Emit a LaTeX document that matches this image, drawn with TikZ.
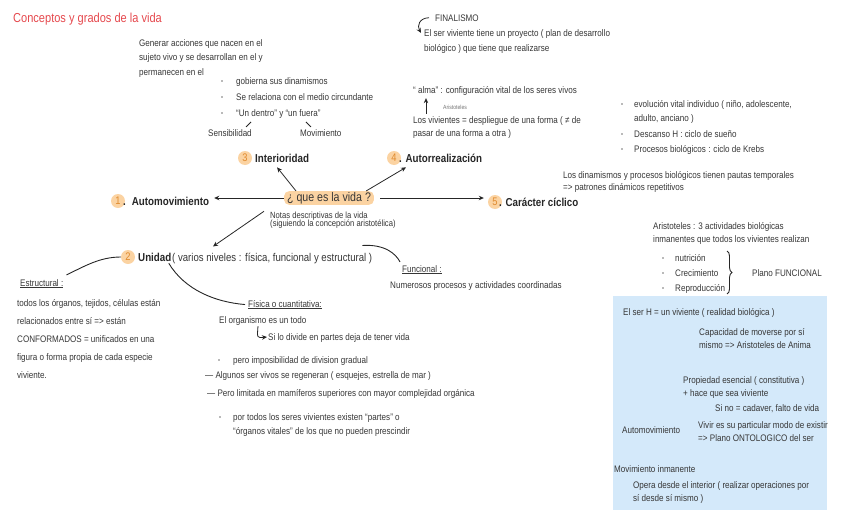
\documentclass[tikz,border=0pt]{standalone}
\usepackage{fontspec}
\setmainfont[FakeStretch=0.85]{Liberation Sans}
\usetikzlibrary{arrows.meta,decorations.pathreplacing}
\definecolor{ink}{HTML}{363636}
\definecolor{titlered}{HTML}{E5484D}
\definecolor{hl}{HTML}{FBD3A2}
\definecolor{numtext}{HTML}{E08A2E}
\definecolor{boxblue}{HTML}{D4E9FA}
\tikzset{
  txt/.style={anchor=base west,inner sep=0pt,align=left,text=ink,font=\fontsize{9.5}{#1}\selectfont},
  txt/.default=14,
  head/.style={anchor=base west,inner sep=0pt,text=black!85,font=\fontsize{11.5}{13}\selectfont\bfseries},
  num/.style={circle,fill=hl,inner sep=0pt,minimum size=14pt,text=numtext,font=\fontsize{11}{13}\selectfont},
  dot/.style={circle,fill=black!55,inner sep=0pt,minimum size=1.8pt},
  arr/.style={-{Stealth[length=5pt,width=4.5pt]},line width=0.8pt,black!85},
  link/.style={line width=0.9pt,black!85},
  brace/.style={decorate,decoration={brace,amplitude=5pt},line width=0.9pt,black!85}
}
\begin{document}
\begin{tikzpicture}[x=1pt,y=-1pt]
\useasboundingbox (0,0) rectangle (848,530);
\fill[boxblue] (613,296) rectangle (827,510);

\node[anchor=base west,inner sep=0pt,text=titlered,font=\fontsize{13}{15}\selectfont] (title) at (13,23) {Conceptos y grados de la vida};

\node[txt=14.5] (gen) at (139,75) {Generar acciones que nacen en el\\sujeto vivo y se desarrollan en el y\\permanecen en el};
\foreach \t [count=\i] in {gobierna sus dinamismos, Se relaciona con el medio circundante, “Un dentro” y “un fuera”}{
\node[dot] at (222,65+16*\i) {};
\node[txt] (in\i) at (236,68+16*\i) {\t};
}
\node[txt] (sens) at (208,136) {Sensibilidad};
\node[txt] (movim) at (300,136) {Movimiento};
\draw[link] ([xshift=38pt,yshift=2pt]sens.north west) -- ++(5,-5);
\draw[link] ([xshift=11pt,yshift=2pt]movim.north west) -- ++(-5,-5);

\node[txt] (final) at (435,21) {FINALISMO};
\node[txt=15] (proy) at (424,51) {El ser viviente tiene un proyecto ( plan de desarrollo\\biológico ) que tiene que realizarse};
\draw[arr] ([xshift=-6pt]final.west) .. controls (419,18) and (417,26) .. ([xshift=-3pt,yshift=-4pt]proy.north west);

\node[txt] (alma) at (413,93) {“ alma” : configuración vital de los seres vivos};
\node[anchor=base west,inner sep=0pt,text=black!55,font=\fontsize{6}{7}\selectfont] (arist) at (443,109) {Aristoteles};
\node[txt=13] (viv) at (413,136) {Los vivientes = despliegue de una forma ( ≠ de\\pasar de una forma a otra )};
\draw[arr] ([xshift=13pt,yshift=2pt]viv.north west) -- ([xshift=13pt,yshift=-3pt]alma.south west);

\node[dot] at (622,104) {};
\node[txt=14.5] (evol) at (634,121.5) {evolución vital individuo ( niño, adolescente,\\adulto, anciano )};
\foreach \y/\t in {134/{Descanso H : ciclo de sueño},149/{Procesos biológicos : ciclo de Krebs}}{
\node[dot] at (622,\y) {};
\node[txt] at (634,\y+3) {\t};
}
\node[txt=12] (ritmo) at (563,190) {Los dinamismos y procesos biológicos tienen pautas temporales\\=> patrones dinámicos repetitivos};

\node[fill=hl,rounded corners=5pt,inner xsep=3pt,inner ysep=1pt,text=ink,font=\fontsize{12.5}{14}\selectfont] (vida) at (329,198) {¿ que es la vida ?};
\node[txt=8.5,font=\fontsize{9}{8.5}\selectfont] (notas) at (270,226.5) {Notas descriptivas de la vida\\(siguiendo la concepción aristotélica)};

\node[num] (n1) at (118,201) {1};
\node[head] (automov) at (123,205) {.\hspace{6pt}Automovimiento};
\node[num] (n3) at (245,158) {3};
\node[head] (inter) at (255,162) {Interioridad};
\node[num] (n4) at (394,158) {4};
\node[head] (auto4) at (399,162) {. Autorrealización};
\node[num] (n5) at (495,202) {5};
\node[head] (cicl) at (499,206) {. Carácter cíclico};
\node[num] (n2) at (128,257) {2};
\node[head] (unid) at (138,261) {Unidad};
\node[txt,font=\fontsize{11.3}{13}\selectfont] (rest) at (172,261) {( varios niveles : física, funcional y estructural )};

\draw[arr,shorten >=5pt] (vida.west) -- (vida.west -| automov.east);
\draw[arr,shorten <=6pt,shorten >=4pt] (vida.east) -- (vida.east -| n5.west);
\draw[arr] ([xshift=-33pt]vida.north) -- ([xshift=-5pt,yshift=-5pt]inter.south);
\draw[arr] ([xshift=-8pt]vida.north east) -- ([xshift=7pt,yshift=-5pt]auto4.south west);
\draw[arr] ([xshift=-6pt]notas.north west) -- ([xshift=41pt,yshift=6pt]rest.north west);

\node[txt] (estr) at (20,286) {\underline{Estructural :}};
\node[txt=18] (todos) at (17,378) {todos los órganos, tejidos, células están\\relacionados entre sí => están\\CONFORMADOS = unificados en una\\figura o forma propia de cada especie\\viviente.};
\draw[link] (n2.west) .. controls (100,257) and (85,266) .. ([xshift=3pt,yshift=4pt]estr.north east);

\node[txt] (fis) at (248,307) {\underline{Física o cuantitativa:}};
\node[txt] (org) at (219,323) {El organismo es un todo};
\node[txt] (si) at (268,340) {Si lo divide en partes deja de tener vida};
\draw[arr] ([xshift=39pt,yshift=-1pt]org.south west) .. controls (257,338) .. ([xshift=-1pt,yshift=3pt]si.base west);
\draw[link] ([xshift=14pt,yshift=-2pt]unid.south) .. controls (185,290) and (215,302) .. ([xshift=-3pt]fis.west);

\node[dot] at (219,360) {};
\node[txt] (grad) at (233,363) {pero imposibilidad de division gradual};
\node[txt] (rege) at (205,378) {— Algunos ser vivos se regeneran ( esquejes, estrella de mar )};
\node[txt] (limi) at (207,396) {— Pero limitada en mamíferos superiores con mayor complejidad orgánica};
\node[dot] at (220,417) {};
\node[txt] (part) at (233,434) {por todos los seres vivientes existen “partes” o\\“órganos vitales” de los que no pueden prescindir};

\node[txt] (func) at (402,272) {\underline{Funcional :}};
\node[txt] (coord) at (390,288) {Numerosos procesos y actividades coordinadas};
\draw[link] ([xshift=-10pt,yshift=7pt]rest.north east) .. controls (385,244) and (396,254) .. ([xshift=-2pt,yshift=3pt]func.north west);

\node[txt=13] (tres) at (653,242) {Aristoteles : 3 actividades biológicas\\inmanentes que todos los vivientes realizan};
\foreach \t [count=\i] in {nutrición, Crecimiento, Reproducción}{
\node[dot] at (663,243+15*\i) {};
\node[txt] (act\i) at (675,246+15*\i) {\t};
}
\draw[brace] (727,251) -- (727,294);
\node[txt] (plano) at (752,276) {Plano FUNCIONAL};

\node[txt] (serh) at (623,315) {El ser H = un viviente ( realidad biológica )};
\node[txt=13] (capa) at (699,348) {Capacidad de moverse por sí\\mismo => Aristoteles de Anima};
\node[txt=13] (prop) at (683,396) {Propiedad esencial ( constitutiva )\\+ hace que sea viviente};
\node[txt] (sino) at (715,411) {Si no = cadaver, falto de vida};
\node[txt] (autom) at (622,433) {Automovimiento};
\node[txt=13] (vivir) at (698,441) {Vivir es su particular modo de existir\\=> Plano ONTOLOGICO del ser};
\node[txt] (inman) at (614,472) {Movimiento inmanente};
\node[txt=13] (opera) at (633,501) {Opera desde el interior ( realizar operaciones por\\sí desde sí mismo )};
\end{tikzpicture}
\end{document}
